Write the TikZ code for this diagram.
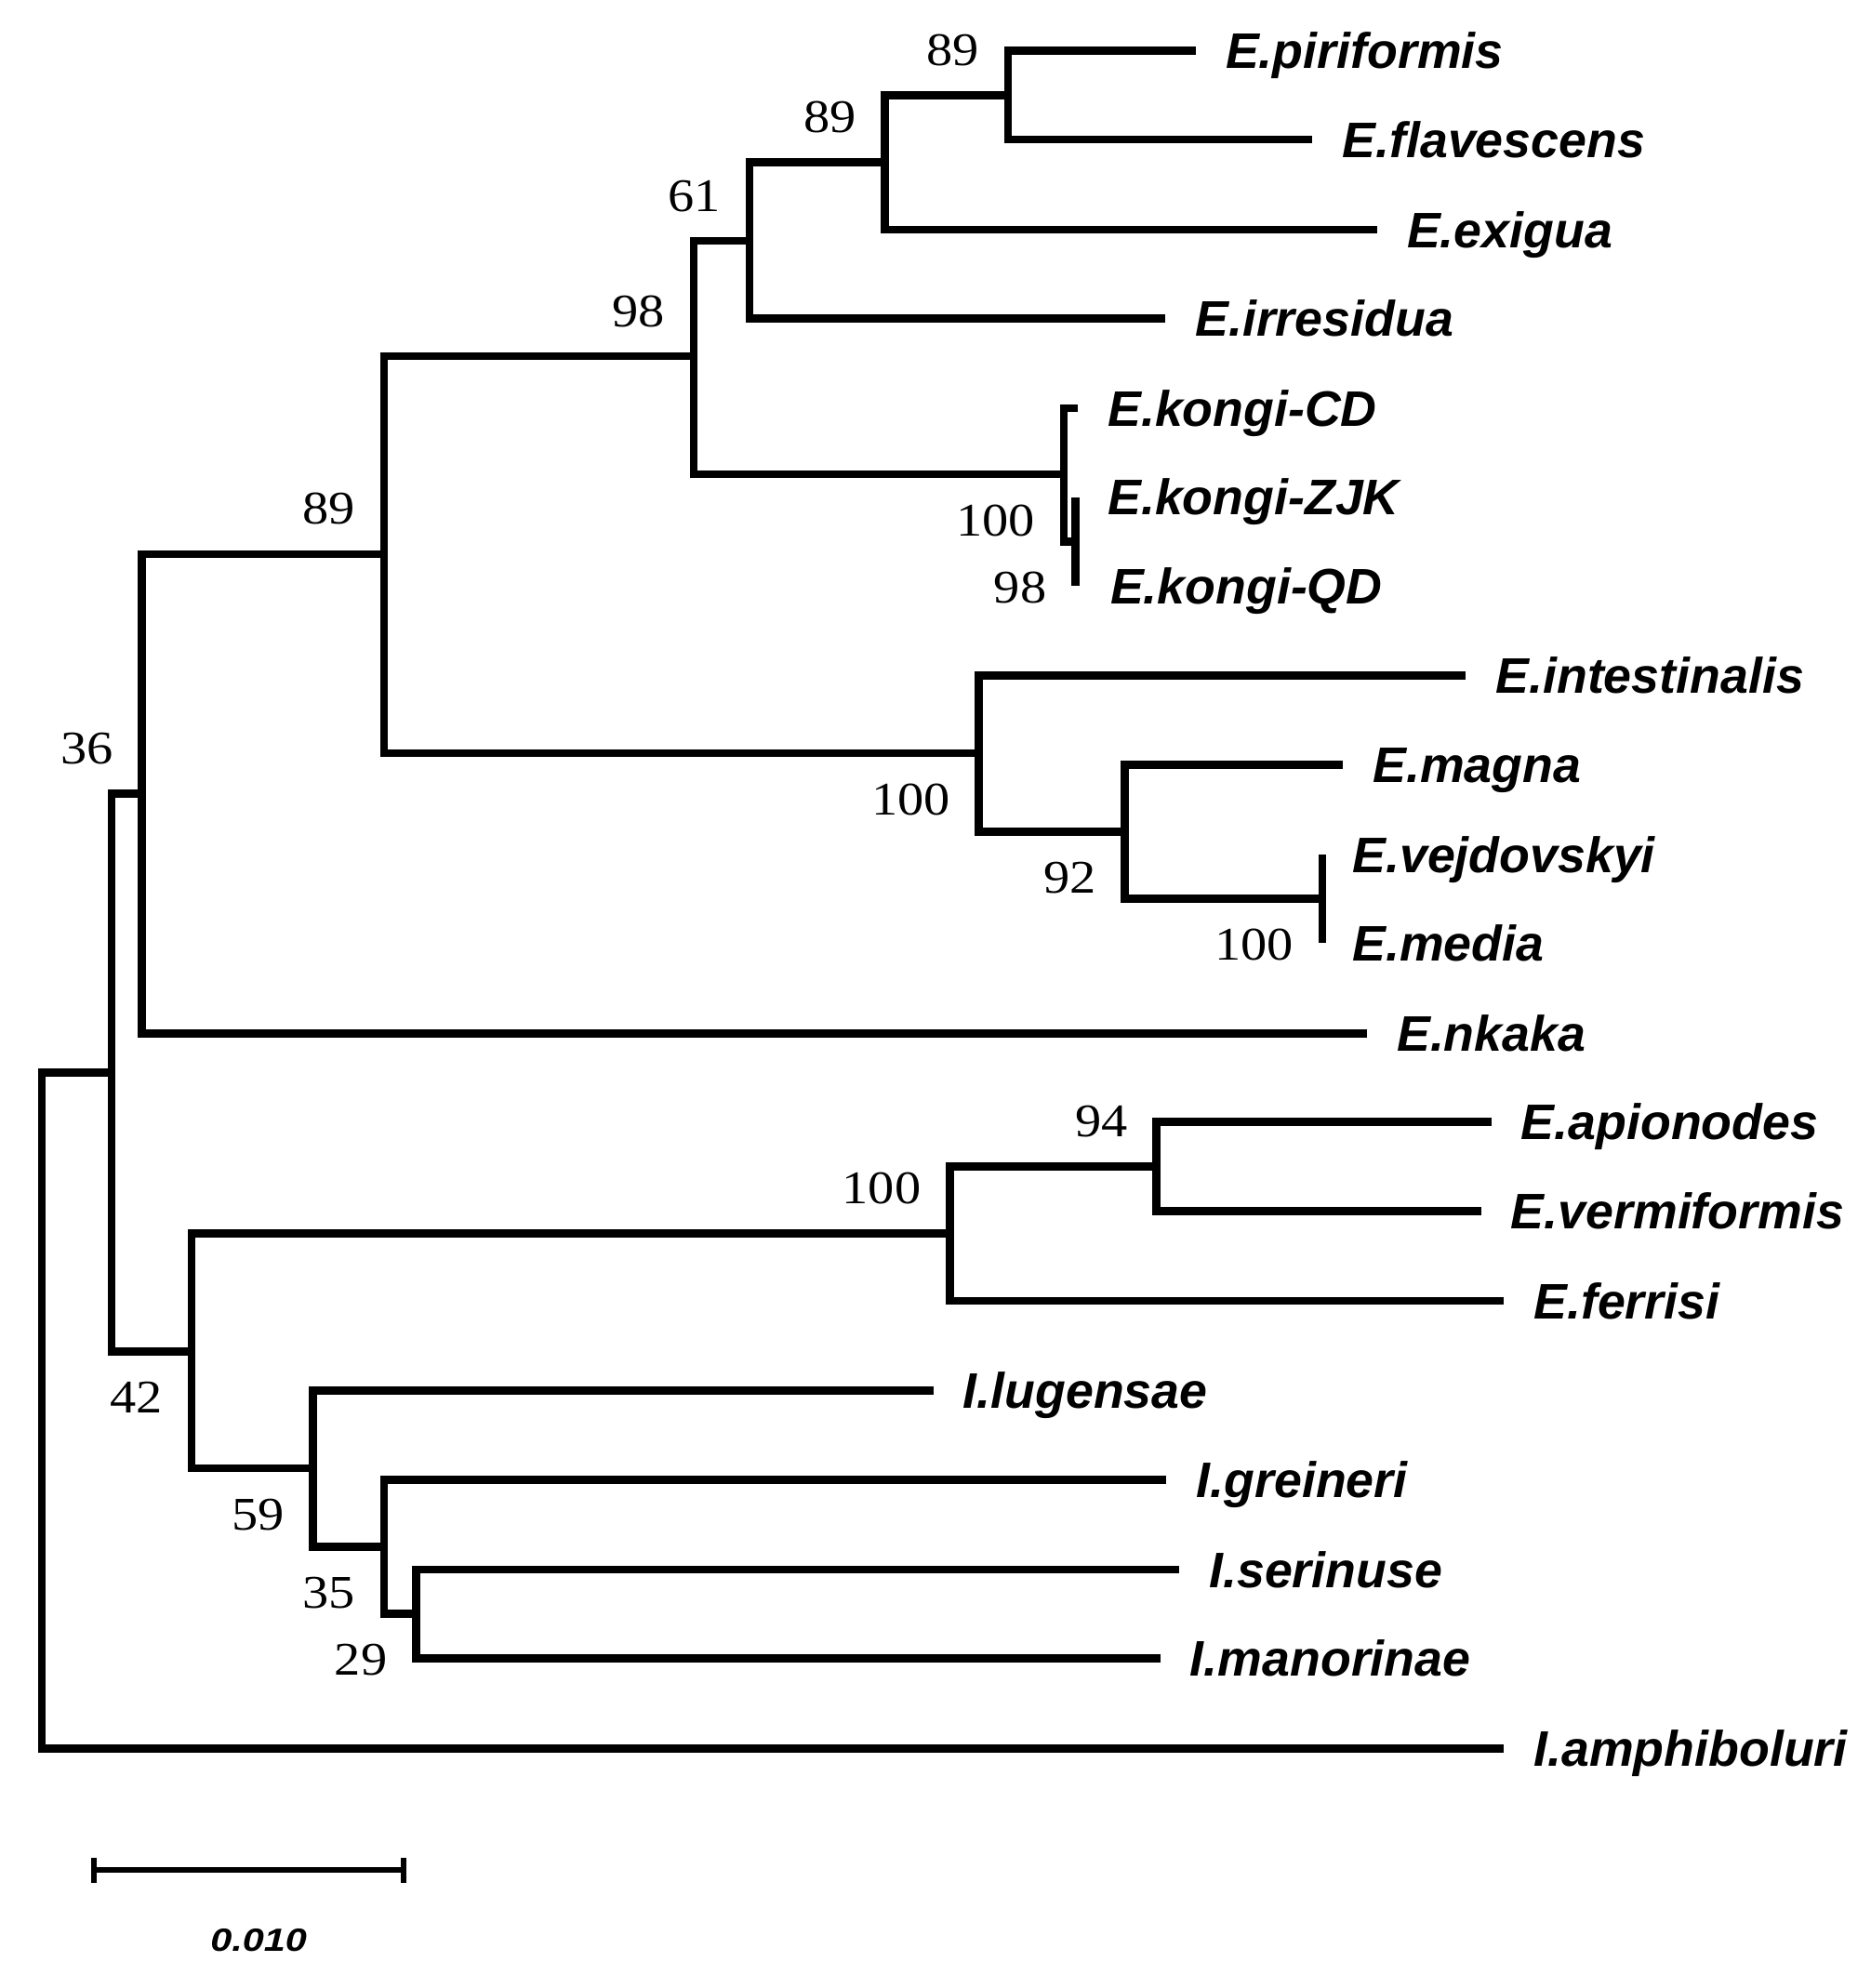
\documentclass[tikz,border=0pt]{standalone}
\usepackage{fontspec}
\newfontfamily\taxfam{Liberation Sans}
\newfontfamily\bootfam{Liberation Serif}[FakeStretch=1.12]
\newfontfamily\barfam{Liberation Sans}[FakeStretch=1.2]
\usetikzlibrary{positioning}

\begin{document}
\begin{tikzpicture}[x=0.01cm,y=-0.01cm,
  branch/.style={line width=1.8pt},
  bar/.style={line width=1.25pt},
  taxon/.style={font={\fontsize{11.2}{13}\taxfam\bfseries\itshape},inner sep=0pt,text height=8pt,text depth=0pt},
  boot/.style={font={\fontsize{10.5}{12}\bootfam},inner sep=0pt,text height=7.1pt,text depth=0pt,anchor=east},
  bsup/.style={boot,xshift=-0.22cm,yshift=0.36cm},
  bsdn/.style={boot,xshift=-0.22cm,yshift=-0.36cm}]

  \useasboundingbox (0,0) rectangle (1475,1568);

  % tips
  \coordinate (t1) at (943,40);
  \coordinate (t2) at (1035,110);
  \coordinate (t3) at (1086,181);
  \coordinate (t4) at (919,251);
  \coordinate (t5) at (850,322);
  \coordinate (t6) at (848,392);
  \coordinate (t7) at (848,462);
  \coordinate (t8) at (1156,533);
  \coordinate (t9) at (1059,603);
  \coordinate (t10) at (1043,674);
  \coordinate (t11) at (1043,744);
  \coordinate (t12) at (1078,815);
  \coordinate (t13) at (1176,885);
  \coordinate (t14) at (1168,955);
  \coordinate (t15) at (1186,1026);
  \coordinate (t16) at (736,1097);
  \coordinate (t17) at (920,1167);
  \coordinate (t18) at (930,1238);
  \coordinate (t19) at (915,1308);
  \coordinate (t20) at (1186,1379);

  % inner nodes
  \coordinate (n1) at (795,75);
  \coordinate (n2) at (698,128);
  \coordinate (n3) at (591,190);
  \coordinate (n4) at (547,281);
  \coordinate (k) at (839,374);
  \coordinate (ks) at (848,427);
  \coordinate (n5) at (303,437);
  \coordinate (i) at (772,594);
  \coordinate (m) at (887,656);
  \coordinate (v) at (1043,709);
  \coordinate (n6) at (112,626);
  \coordinate (a) at (912,920);
  \coordinate (f) at (749,973);
  \coordinate (s) at (328,1273);
  \coordinate (g) at (303,1220);
  \coordinate (l) at (247,1158);
  \coordinate (n7) at (151,1066);
  \coordinate (n8) at (88,846);
  \coordinate (r) at (33,1112);

  % branches
  \draw[branch] (n1) |- (t1) (n1) |- (t2);
  \draw[branch] (n2) |- (n1) (n2) |- (t3);
  \draw[branch] (n3) |- (n2) (n3) |- (t4);
  \draw[branch] (n4) |- (n3) (n4) |- (k);
  \draw[branch] (k) |- (t5) (k) |- (ks);
  \draw[branch] (ks) |- (t6) (ks) |- (t7);
  \draw[branch] (n5) |- (n4) (n5) |- (i);
  \draw[branch] (i) |- (t8) (i) |- (m);
  \draw[branch] (m) |- (t9) (m) |- (v);
  \draw[branch] (v) |- (t10) (v) |- (t11);
  \draw[branch] (n6) |- (n5) (n6) |- (t12);
  \draw[branch] (a) |- (t13) (a) |- (t14);
  \draw[branch] (f) |- (a) (f) |- (t15);
  \draw[branch] (s) |- (t18) (s) |- (t19);
  \draw[branch] (g) |- (t17) (g) |- (s);
  \draw[branch] (l) |- (t16) (l) |- (g);
  \draw[branch] (n7) |- (f) (n7) |- (l);
  \draw[branch] (n8) |- (n6) (n8) |- (n7);
  \draw[branch] (r) |- (n8) (r) |- (t20);

  % taxa
  \node[taxon, right=0.23cm of t1] (piri) {E.piriformis};
  \node[taxon, right=0.23cm of t2] (flav) {E.flavescens};
  \node[taxon, right=0.23cm of t3] (exig) {E.exigua};
  \node[taxon, right=0.23cm of t4] (irre) {E.irresidua};
  \node[taxon, right=0.23cm of t5] (kcd) {E.kongi-CD};
  \node[taxon, right=0.25cm of t6] (kzjk) {E.kongi-ZJK};
  \node[taxon, right=0.27cm of t7] (kqd) {E.kongi-QD};
  \node[taxon, right=0.23cm of t8] (inte) {E.intestinalis};
  \node[taxon, right=0.23cm of t9] (magn) {E.magna};
  \node[taxon, right=0.23cm of t10] (vejd) {E.vejdovskyi};
  \node[taxon, right=0.23cm of t11] (medi) {E.media};
  \node[taxon, right=0.23cm of t12] (nkak) {E.nkaka};
  \node[taxon, right=0.23cm of t13] (apio) {E.apionodes};
  \node[taxon, right=0.23cm of t14] (verm) {E.vermiformis};
  \node[taxon, right=0.23cm of t15] (ferr) {E.ferrisi};
  \node[taxon, right=0.23cm of t16] (luge) {I.lugensae};
  \node[taxon, right=0.23cm of t17] (grei) {I.greineri};
  \node[taxon, right=0.23cm of t18] (seri) {I.serinuse};
  \node[taxon, right=0.23cm of t19] (mano) {I.manorinae};
  \node[taxon, right=0.23cm of t20] (amph) {I.amphiboluri};

  % bootstrap values
  \node[bsup] (b1) at (n1) {89};
  \node[bsup] (b2) at (n2) {89};
  \node[bsup] (b3) at (n3) {61};
  \node[bsup] (b4) at (n4) {98};
  \node[bsdn] (b5) at (k) {100};
  \node[bsdn] (b6) at (ks) {98};
  \node[bsup] (b7) at (n5) {89};
  \node[bsdn] (b8) at (i) {100};
  \node[bsdn] (b9) at (m) {92};
  \node[bsdn] (b10) at (v) {100};
  \node[bsup] (b11) at (n6) {36};
  \node[bsup] (b12) at (a) {94};
  \node[bsup] (b13) at (f) {100};
  \node[bsdn] (b14) at (n7) {42};
  \node[bsdn] (b15) at (l) {59};
  \node[bsdn] (b16) at (g) {35};
  \node[bsdn] (b17) at (s) {29};

  % scale bar
  \coordinate (s1) at (74,1475);
  \coordinate (s2) at (318,1475);
  \draw[bar] (s1) -- (s2);
  \draw[bar] (s1) ++(0,-10) -- ++(0,20);
  \draw[bar] (s2) ++(0,-10) -- ++(0,20);
  \node[font={\fontsize{7.2}{9}\barfam\bfseries\itshape},inner sep=0pt] (sl) at (204,1530) {0.010};
\end{tikzpicture}
\end{document}
